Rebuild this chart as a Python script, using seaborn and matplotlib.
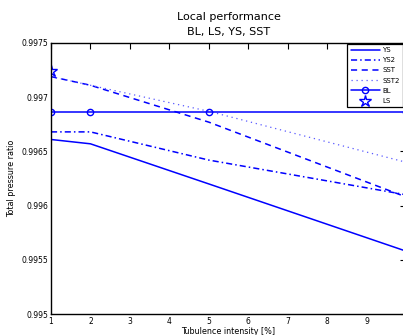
import matplotlib
matplotlib.use("Agg")
import matplotlib.pyplot as plt
import seaborn as sns
from matplotlib.ticker import FuncFormatter

# Data
x = [1, 2, 5, 10]
ys = [0.99661, 0.99657, 0.99620, 0.99558]
ys2 = [0.99668, 0.99668, 0.99642, 0.99610]
sst = [0.99719, 0.99711, 0.99677, 0.99608]
sst2 = [0.99719, 0.99711, 0.99687, 0.99640]
bl = [0.99686, 0.99686, 0.99686, 0.99686]
ls_x = [1]
ls_y = [0.99724]
x_ticks = [1, 2, 3, 4, 5, 6, 7, 8, 9, 10]
x_tick_labels = ['1', '2', '3', '4', '5', '6', '7', '8', '9', '']
y_ticks = [0.995, 0.9955, 0.996, 0.9965, 0.997, 0.9975]

sns.set_style("white")
plt.rcParams['font.family'] = ['DejaVu Sans']
plt.rcParams['text.color'] = 'black'
plt.rcParams['axes.labelcolor'] = 'black'

fig = plt.figure(figsize=(4.03, 3.35), dpi=100)
ax = fig.add_axes([51/403, 21/335, 355/403, 271/335])

blue = (0, 0, 1)
lw = 1.1
sns.lineplot(x=x, y=ys, ax=ax, color=blue, linestyle='-', linewidth=lw, label='YS')
sns.lineplot(x=x, y=ys2, ax=ax, color=blue, linestyle=(0, (4, 2, 1, 2)), linewidth=lw, label='YS2')
sns.lineplot(x=x, y=sst, ax=ax, color=blue, linestyle=(0, (4, 3)), linewidth=lw, label='SST')
sns.lineplot(x=x, y=sst2, ax=ax, color=(0.35, 0.35, 1), linestyle=(0, (1, 3)), linewidth=0.9, label='SST2')
sns.lineplot(x=x, y=bl, ax=ax, color=blue, linestyle='-', linewidth=lw, marker='o',
             markersize=4.5, markerfacecolor='none', markeredgecolor=blue, markeredgewidth=1.0, label='BL')
sns.lineplot(x=ls_x, y=ls_y, ax=ax, color=blue, linestyle='none', marker='*',
             markersize=9, markerfacecolor='none', markeredgecolor=blue, markeredgewidth=1.0, label='LS')

ax.set_xlim(1, 10)
ax.set_ylim(0.995, 0.9975)
ax.set_xticks(x_ticks)
ax.set_xticklabels(x_tick_labels)
ax.set_yticks(y_ticks)
ax.yaxis.set_major_formatter(FuncFormatter(lambda v, p: '%g' % v))
ax.tick_params(direction='in', length=4, width=0.8, labelsize=5.5, top=True, right=True,
               colors='black', pad=2)
for s in ax.spines.values():
    s.set_color('black')
    s.set_linewidth(1.0)

ax.set_xlabel('Tubulence intensity [%]', fontsize=5.8, labelpad=1)
ax.set_ylabel('Total pressure ratio', fontsize=5.8, labelpad=4)
ax.set_title('Local performance\nBL, LS, YS, SST', fontsize=8, pad=6, linespacing=1.55, color='black')

leg = ax.legend(loc='upper right', bbox_to_anchor=(403/403, 1 - 44/335), bbox_transform=fig.transFigure,
                fontsize=5, frameon=True, fancybox=False, edgecolor='black', framealpha=1,
                handlelength=4.2, handletextpad=0.4, borderpad=0.45, labelspacing=0.6, borderaxespad=0)
leg.get_frame().set_linewidth(0.9)
for t in leg.get_texts():
    t.set_color('black')

fig.savefig('out.png', dpi=100)
